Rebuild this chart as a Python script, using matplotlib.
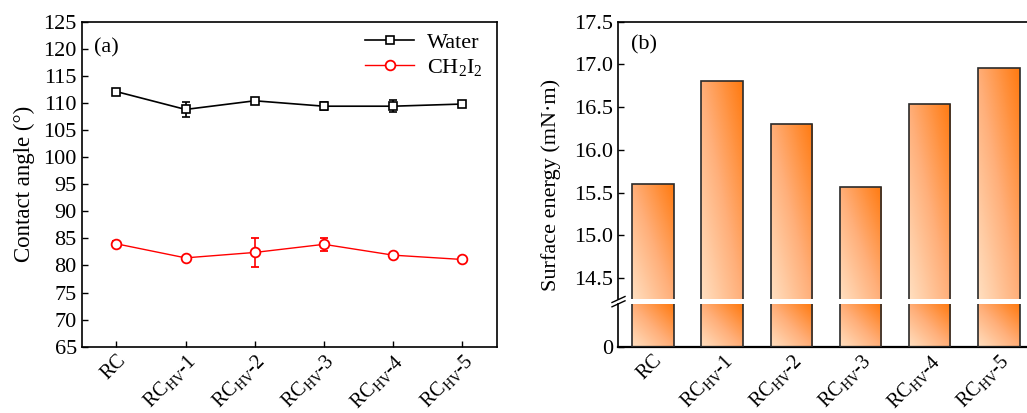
import numpy as np
import matplotlib
matplotlib.use('Agg')
import matplotlib.pyplot as plt
from matplotlib.colors import LinearSegmentedColormap
from matplotlib.lines import Line2D

plt.rcParams['font.family'] = ['Liberation Serif', 'DejaVu Serif']
plt.rcParams['mathtext.fontset'] = 'custom'
plt.rcParams['mathtext.rm'] = 'Liberation Serif'
plt.rcParams['mathtext.it'] = 'Liberation Serif:italic'
plt.rcParams['font.size'] = 16
plt.rcParams['axes.linewidth'] = 1.2
plt.rcParams['xtick.direction'] = 'in'
plt.rcParams['ytick.direction'] = 'in'
plt.rcParams['xtick.major.size'] = 4
plt.rcParams['ytick.major.size'] = 4
plt.rcParams['xtick.major.width'] = 1
plt.rcParams['ytick.major.width'] = 1
plt.rcParams['xtick.labelsize'] = 14.5
plt.rcParams['xtick.major.pad'] = 3

# data
samples = ['RC', r'RC$_{\mathrm{HV}}$-1', r'RC$_{\mathrm{HV}}$-2', r'RC$_{\mathrm{HV}}$-3',
           r'RC$_{\mathrm{HV}}$-4', r'RC$_{\mathrm{HV}}$-5']
water = [112.1, 108.8, 110.4, 109.4, 109.4, 109.8]
water_err = [0.3, 1.4, 0.3, 0.75, 1.1, 0.3]
ch2i2 = [84.0, 81.4, 82.4, 83.9, 81.9, 81.1]
ch2i2_err = [0.55, 0.3, 2.7, 1.2, 0.3, 0.3]
surface_energy = [15.6, 16.8, 16.3, 15.56, 16.54, 16.96]

W, H = 1027, 413
fig = plt.figure(figsize=(W / 100, H / 100), dpi=100)

def px_box(x0, y0, x1, y1):
    # pixel box (top-left origin) -> figure fraction rect
    return [x0 / W, 1 - y1 / H, (x1 - x0) / W, (y1 - y0) / H]

x = np.arange(len(samples))

# (a) contact angle
ax1 = fig.add_axes(px_box(81.7, 21.7, 497, 346.7))
ax1.errorbar(x, water, yerr=water_err, color='black', lw=1.2, marker='s', ms=6,
             mfc='white', mec='black', mew=1.2, capsize=3, elinewidth=1.2, capthick=1.2,
             label='Water')
ax1.errorbar(x, ch2i2, yerr=ch2i2_err, color='#FF0000', lw=1.0, marker='o', ms=7,
             mfc='white', mec='#FF0000', mew=1.3, capsize=3, elinewidth=1.2, capthick=1.2,
             label=r'CH$_2$I$_2$')
ax1.set_xlim(-0.5, 5.5)
ax1.set_ylim(65, 125)
ax1.set_yticks(np.arange(65, 126, 5))
ax1.set_xticks(x)
ax1.set_xticklabels(samples, rotation=45, ha='right', rotation_mode='anchor')
ax1.set_ylabel('Contact angle (°)', fontsize=16.5, labelpad=6)
ax1.text(0.03, 0.95, '(a)', transform=ax1.transAxes, va='top', ha='left', fontsize=16)
handles, labels = ax1.get_legend_handles_labels()
handles = [h[0] for h in handles]
ax1.legend(handles, labels, loc='upper right', frameon=False, fontsize=16,
           handlelength=2.2, handletextpad=0.6, bbox_to_anchor=(1.015, 1.03), labelspacing=0.2)

# (b) surface energy with broken axis
cmap = LinearSegmentedColormap.from_list('peach', ['#FFDFC0', '#FFAE78', '#FF7A10'])
gx, gy = np.meshgrid(np.linspace(0, 1, 64), np.linspace(0, 1, 64))
grad = (gx + gy) / 2

ax_top = fig.add_axes(px_box(618.3, 21.7, 1033.5, 299.3))
ax_bot = fig.add_axes(px_box(618.3, 304.0, 1033.5, 346.7))
top_lim = (14.25, 17.5)
bot_lim = (0, 1)

for ax, (lo, hi) in [(ax_top, top_lim), (ax_bot, bot_lim)]:
    bars = ax.bar(x, surface_energy, width=0.6, facecolor='none',
                  edgecolor='#2a2a2a', lw=1.2, zorder=3)
    for b, v in zip(bars, surface_energy):
        x0 = b.get_x()
        y1 = min(v, hi)
        im = ax.imshow(grad, cmap=cmap, origin='lower', aspect='auto',
                       extent=[x0, x0 + b.get_width(), lo, y1], zorder=2)
        im.set_clip_path(b)
    ax.set_xlim(-0.5, 5.5)
    ax.set_ylim(lo, hi)

ax_top.spines['bottom'].set_visible(False)
ax_top.set_xticks([])
ax_top.set_yticks(np.arange(14.5, 17.51, 0.5))
ax_top.set_yticklabels([f'{v:.1f}' for v in np.arange(14.5, 17.51, 0.5)])
ax_top.text(0.03, 0.95, '(b)', transform=ax_top.transAxes, va='top', ha='left', fontsize=16)

ax_bot.spines['top'].set_visible(False)
ax_bot.spines['bottom'].set_linewidth(1.6)
ax_bot.set_yticks([0])
ax_bot.set_xticks(x)
ax_bot.set_xticklabels(samples, rotation=45, ha='right', rotation_mode='anchor')

fig.text(551 / W, 1 - 185 / H, 'Surface energy (mN·m)', rotation=90,
         ha='center', va='center', fontsize=16)

# break marks on the left spine
for yc in (299.5, 303.8):
    fig.add_artist(Line2D([612 / W, 625 / W], [1 - (yc + 3) / H, 1 - (yc - 3) / H],
                          color='black', lw=1.0))

fig.savefig('out.png', dpi=100)
